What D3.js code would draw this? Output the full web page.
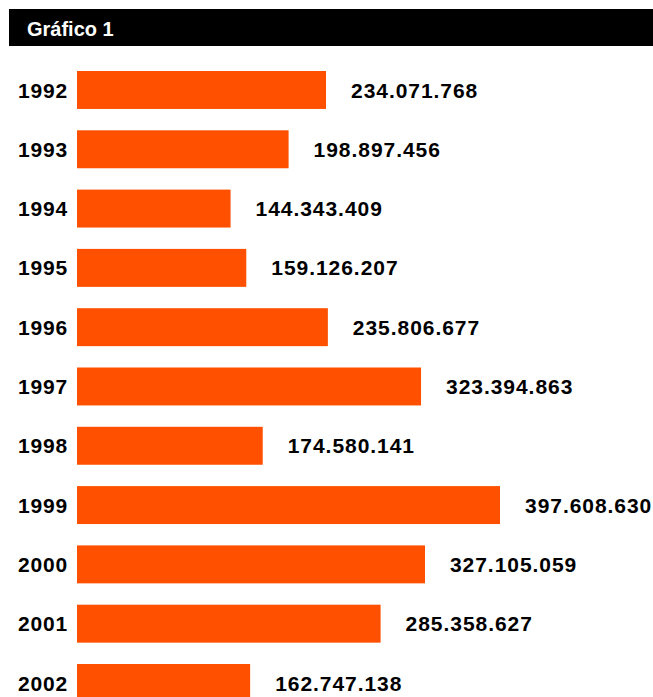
<!DOCTYPE html>
<html><head><meta charset="utf-8">
<script src="https://cdn.jsdelivr.net/npm/d3@7"></script>
<style>body{margin:0;background:#fff}svg{display:block}</style>
</head><body>
<script>
const title = "Gráfico 1";
const years = ["1992","1993","1994","1995","1996","1997","1998","1999","2000","2001","2002"];
const values = [234071768,198897456,144343409,159126207,235806677,323394863,174580141,397608630,327105059,285358627,162747138];

const W = 653, H = 697;
const svg = d3.select("body").append("svg").attr("width", W).attr("height", H);
const font = "'Liberation Sans', Arial, sans-serif";

svg.append("rect").attr("x", 9).attr("y", 9).attr("width", W - 9).attr("height", 37).attr("fill", "#000");
svg.append("text").attr("x", 27).attr("y", 35.5).attr("fill", "#fff")
  .attr("font-family", font).attr("font-weight", "bold").attr("font-size", 20).text(title);

const x = d3.scaleLinear().domain([0, 397608630]).range([77, 500]);
const y = d3.scaleBand().domain(years).range([71, 71 + 59.3 * (years.length - 0.36)]).paddingInner(0.36).paddingOuter(0);

const fmt = v => d3.format(",")(v).replace(/,/g, ".");
const data = years.map((yr, i) => ({yr, v: values[i]}));

svg.selectAll("rect.bar").data(data).join("rect").attr("class", "bar")
  .attr("x", x(0)).attr("y", d => y(d.yr)).attr("width", d => x(d.v) - x(0)).attr("height", y.bandwidth())
  .attr("fill", "#ff5000");

svg.selectAll("text.yr").data(data).join("text").attr("class", "yr")
  .attr("x", 68).attr("y", d => y(d.yr) + y.bandwidth() / 2).attr("dy", "0.36em")
  .attr("text-anchor", "end").attr("font-family", font).attr("font-weight", "bold").attr("font-size", 21)
  .attr("letter-spacing", "0.8px").attr("fill", "#000").text(d => d.yr);

svg.selectAll("text.val").data(data).join("text").attr("class", "val")
  .attr("x", d => x(d.v) + 25).attr("y", d => y(d.yr) + y.bandwidth() / 2).attr("dy", "0.36em")
  .attr("font-family", font).attr("font-weight", "bold").attr("font-size", 21)
  .attr("letter-spacing", "0.95px").attr("fill", "#000").text(d => fmt(d.v));
</script>
</body></html>
